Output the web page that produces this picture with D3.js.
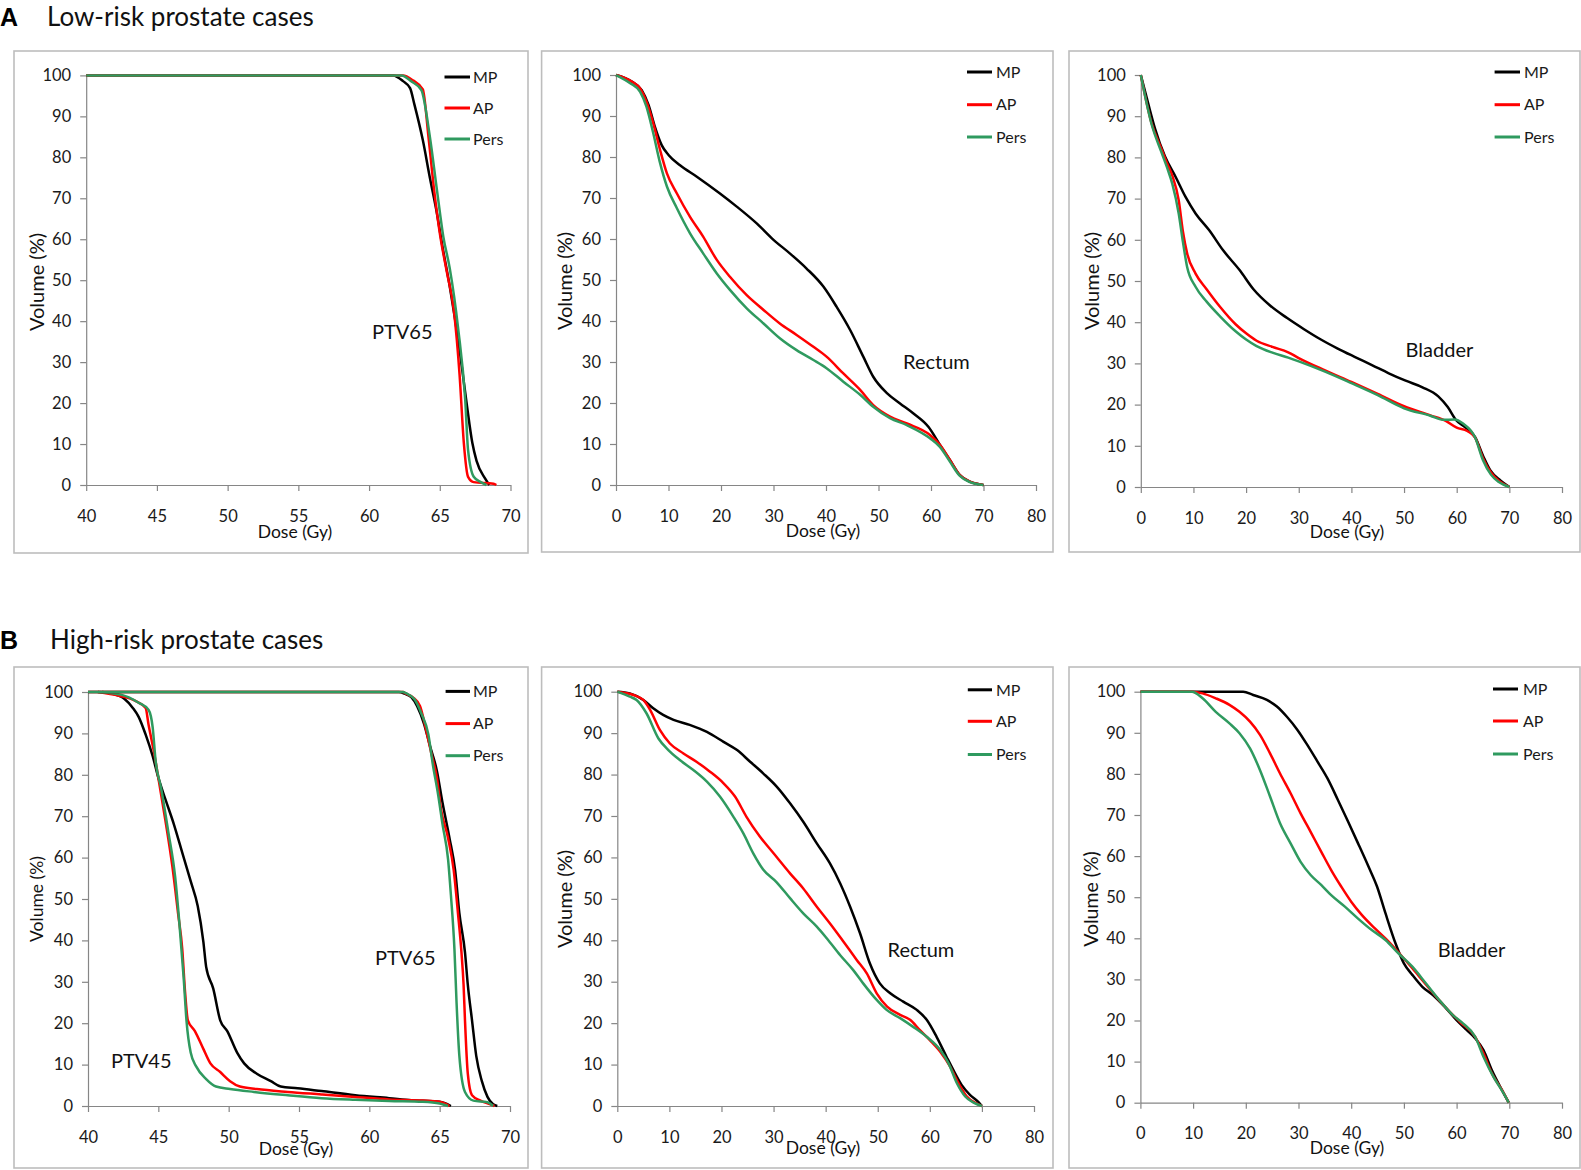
<!DOCTYPE html>
<html lang="en">
<head>
<meta charset="utf-8">
<title>Dose-volume histograms, low- and high-risk prostate cases</title>
<script src="https://d3js.org/d3.v7.min.js"></script>
<style>
  body { margin: 0; background: #fff; }
  svg { display: block; font-family: Lato, "Open Sans", sans-serif; }
  .axis path, .axis line { stroke: #868686; stroke-width: 1.2px; }
  .axis text { font-family: Lato, sans-serif; font-size: 16.5px; fill: #1a1a1a; }
</style>
</head>
<body>
<svg width="1581" height="1170"></svg>
<script>

// series and ticks
const seriesNames = ["MP", "AP", "Pers"];
const seriesColors = ["#000000", "#ff0000", "#2f9a5f"];
const doseTicksPtv = [40, 45, 50, 55, 60, 65, 70];
const doseTicksOar = [0, 10, 20, 30, 40, 50, 60, 70, 80];
const volumeTicks = [0, 10, 20, 30, 40, 50, 60, 70, 80, 90, 100];

// A: low-risk, [dose Gy, volume %]
const lowPtv65MP = [[40,100],[61.7,100],[62.4,98.6],[62.9,96.9],[63.2,93],[63.8,84.2],[64.3,75],[64.8,66.3],[65.2,58],[65.7,48.6],[66.4,33],[66.9,19.9],[67.3,10.3],[67.6,5.9],[68.2,1.6],[68.5,0]];
const lowPtv65AP = [[40,100],[62.4,100],[63.1,98.8],[63.8,96.6],[64.2,85],[64.6,72],[65,61.5],[65.5,52],[66,42.5],[66.4,26.9],[66.7,10.3],[67,2],[67.4,0.7],[68.8,0.3],[69,0]];
const lowPtv65Pers = [[40,100],[62.3,100],[63,98.5],[63.7,96.4],[64.3,85],[64.8,72],[65.25,60.6],[65.7,53],[66.3,38.2],[66.8,20.7],[67,8.5],[67.4,2],[67.9,0.7],[68.3,0]];

const lowRectumMP = [[0,100],[3,98.4],[4.9,96.3],[6.2,92.7],[7.4,87.4],[8.7,82.9],[10,80.5],[12.2,78],[15.4,75.2],[19.8,71.1],[23,67.9],[26.8,63.8],[30,59.8],[33.1,56.5],[36.3,52.8],[39.5,48.4],[42,43.5],[44.6,37.8],[47.1,31.3],[49,26.4],[51.6,22.4],[54.1,19.9],[56.6,17.5],[59.5,14.2],[61.7,9.8],[63.6,6.1],[65.5,2.4],[67.4,0.8],[70,0]];
const lowRectumAP = [[0,100],[3,98.4],[4.6,96.7],[5.8,93.5],[7.1,88.2],[8.4,81.7],[9.7,76],[11.6,71.1],[14.1,65.4],[16.6,60.6],[19.2,54.9],[21.7,50.8],[24.9,46.3],[28.1,42.7],[31.2,39.4],[34.4,36.6],[37.6,33.7],[40.1,31.3],[43.3,27.2],[46.5,23.2],[49,19.5],[52.2,16.7],[55.4,15],[59.8,12.2],[61.7,9.8],[63.6,6.1],[65.5,2.4],[67.4,0.8],[70,0]];
const lowRectumPers = [[0,100],[2.7,98],[4.6,95.9],[5.8,92.3],[7.1,85.8],[8.4,78.5],[9.7,72.8],[11.6,67.5],[14.1,61.4],[16.6,56.5],[19.2,51.6],[21.7,47.6],[24.9,43.1],[28.1,39.4],[31.2,35.8],[34.4,32.9],[37.6,30.5],[40.1,28.5],[43.3,25.2],[46.5,22],[49,19.1],[52.2,16.3],[55.4,14.6],[59.8,11.4],[61.7,9.3],[63.6,5.7],[65.5,2.2],[67.4,0.7],[70,0]];

const lowBladderMP = [[0,100],[1.4,93.1],[2.7,87],[4.6,80.2],[6.6,75.3],[8.5,70.4],[10.4,66.4],[13,62.3],[15.6,57.5],[18.8,52.6],[21.4,48],[24.6,44],[27.8,41],[31,38.3],[34.2,35.8],[37.4,33.6],[40.6,31.6],[43.9,29.6],[47.1,27.6],[50.3,25.8],[53.5,24.2],[56.5,22],[58.3,19.4],[59.9,16.2],[61.5,14.6],[63.5,12.1],[65.1,7.3],[66.4,4],[68.3,1.6],[70,0]];
const lowBladderAP = [[0,100],[2,88.5],[4,81.8],[5,78.5],[6,75.5],[7.2,69.6],[8,62],[8.8,56.7],[10.4,51.8],[12.5,48],[15,43.8],[18,39.5],[20,37.3],[22,35.5],[25,34],[28,32.7],[30,31.3],[35,28.3],[40,25.5],[45,22.6],[50,19.6],[55,17.4],[58,16],[60,14.4],[62,13.6],[63.5,12],[65,7],[66.5,3.5],[68,1.5],[70,0]];
const lowBladderPers = [[0,100],[2,88.3],[4,81],[5,77.5],[6,73.5],[7.2,66.4],[8,59.5],[8.8,53.4],[10.4,48.6],[12.5,45],[15,41.5],[18,37.8],[20,35.8],[22,34.2],[25,32.6],[28,31.4],[30,30.5],[35,28],[40,25.2],[45,22.3],[50,19.1],[55,17.3],[57.4,16.3],[59.6,16.4],[61.2,15.4],[63.5,12],[65,6.5],[66.5,3],[68,1.2],[70,0]];

// B: high-risk
const highPtv45MP = [[41,100],[41.7,99.6],[42.6,98.3],[43.2,96.1],[43.6,94],[44.1,89.7],[44.6,84.5],[45,79.3],[45.5,74.1],[46.1,68.1],[46.7,61.2],[47.3,54.3],[47.8,48.3],[48.2,39.7],[48.4,33.6],[48.9,28.4],[49.4,20.7],[49.9,18.1],[50.6,12.9],[51.1,10.3],[52,7.8],[53,6],[53.7,4.7],[54.9,4.3],[56.6,3.6],[59,2.6],[61.4,1.9],[63,1.4],[65,1],[65.8,0]];
const highPtv45AP = [[40.7,100],[42.2,99.1],[43.4,97.8],[44.1,96.1],[44.3,92.2],[44.7,85.3],[45,79.3],[45.5,69],[46,57.8],[46.4,46.6],[46.7,37.9],[46.9,27.6],[47.1,20.7],[47.6,18.1],[48.2,13.8],[48.7,10.3],[49.4,8.2],[50.1,6],[50.8,4.7],[52,4.1],[54.2,3.4],[56.6,2.8],[59,2.2],[61.4,1.6],[63.8,1.3],[65,1],[65.5,0.4],[65.7,0]];
const highPtv45Pers = [[40.7,100],[42.4,99.3],[43.6,97.4],[44.3,95.7],[44.6,91.4],[44.8,83.6],[45.2,76.7],[45.7,66.4],[46.2,55.2],[46.5,44],[46.8,31],[47,20.7],[47.3,12.9],[47.7,9.5],[48.4,6.5],[49.1,4.7],[50.1,4.1],[51.8,3.4],[54.2,2.6],[56.6,1.9],[59,1.5],[61.4,1.2],[63.8,1],[65,0.6],[65.6,0]];
const highPtv65MP = [[40,100],[62.1,100],[62.5,99.6],[63,98.7],[63.4,96.6],[63.9,92.2],[64.3,87.1],[64.8,81],[65.2,73.3],[65.7,64.7],[66.1,56.9],[66.4,46.6],[66.8,37.1],[67,29.3],[67.3,20.7],[67.6,12.1],[68,6],[68.4,2.2],[68.8,0.4],[69.1,0]];
const highPtv65AP = [[40,100],[62.4,100],[62.6,99.6],[63.1,98.7],[63.6,96.6],[64,91.4],[64.4,85.3],[64.8,79.3],[65.1,71.6],[65.6,64.7],[66,56.9],[66.3,46.6],[66.55,37.1],[66.7,29.3],[66.8,20.7],[67,7.8],[67.3,2.6],[67.9,1.3],[68.6,0.4],[68.9,0]];
const highPtv65Pers = [[40,100],[62.4,100],[62.6,99.7],[63.2,98.3],[63.7,94.8],[64.2,89.7],[64.5,82.8],[64.9,75],[65.2,68.1],[65.6,59.5],[65.8,50.9],[66.05,37.9],[66.2,25],[66.4,12.1],[66.8,3.4],[67.4,1.3],[68.4,0.9],[68.8,0]];

const highRectumMP = [[0,100],[2.4,99.6],[5,98],[6.9,96],[8.8,94.4],[10.8,93.2],[13.9,92],[17.2,90.3],[20.4,87.9],[23,85.9],[25.5,83.1],[28,80.3],[30.6,77.1],[33.2,73],[35.7,68.6],[38.3,63.4],[40.8,58.6],[42.8,53.7],[44.7,48.1],[46.6,41.7],[48.5,34.4],[50.4,29.6],[52.4,27.2],[54.9,25.2],[57.5,23.2],[59.4,20.8],[61.3,16.7],[63.2,11.9],[64.5,8.7],[66.1,5.1],[67.7,2.7],[69.3,1],[70,0]];
const highRectumAP = [[0,100],[3.1,99.2],[5,98],[6.3,95.6],[8.2,90.7],[10.1,87.5],[12.7,85.1],[15.2,83.1],[17.8,80.7],[20.4,77.9],[22.6,74.7],[24.8,69.8],[27.4,65],[30,61],[33.2,56.1],[35.7,52.5],[38.3,48.1],[40.8,44.1],[43.4,39.7],[46,35.2],[47.9,32],[49.8,27.2],[51.8,24],[54.3,22],[56.2,20.8],[58.1,18.3],[60,15.9],[62,13.1],[63.9,9.5],[65.5,5.5],[67.1,2.3],[69,0.6],[70,0]];
const highRectumPers = [[0,100],[2.4,98.8],[3.7,98],[5.6,94.8],[7.9,88.7],[9.8,85.9],[12,83.5],[14.6,81.1],[17.2,78.3],[19.7,74.7],[22.3,69.8],[24.2,65.8],[26.1,61],[28,57.1],[30.6,54],[33.2,50.1],[35.7,46.5],[38.3,43.3],[40.2,40.5],[42.8,36.4],[45.3,32.8],[47.2,29.6],[49.8,25.6],[51.7,23.2],[54.3,21.2],[56.8,19.1],[59.4,16.7],[62,13.5],[63.6,10.3],[65.2,5.5],[66.8,2.3],[68.4,0.8],[70,0]];

const highBladderMP = [[0,100],[19.5,100],[21.4,99.2],[24,98],[25.9,96.4],[27.8,93.9],[29.8,90.7],[31.7,87],[33.6,83],[35.5,78.9],[37.5,73.6],[39.4,68.4],[41.3,63.1],[43.3,57.4],[44.9,52.6],[46.5,46.1],[48.4,38.8],[50,33.9],[51.6,31.1],[53.5,28.2],[55.5,26.2],[57.4,23.8],[60,20.1],[61.9,17.7],[63.5,15.7],[65.1,12.8],[66.7,7.9],[68.6,3.1],[69.9,0]];
const highBladderAP = [[0,100],[9.8,100],[11.8,99.6],[14.3,98.4],[16.9,96.8],[18.8,95.1],[20.8,92.7],[22.7,89.5],[24.6,85],[26.5,80.1],[28.5,75.3],[30.4,70.4],[32.3,65.9],[34.3,61.1],[36.2,56.6],[38.1,52.6],[40,48.9],[42,45.7],[44.5,42.4],[47.1,39.2],[49.7,35.5],[51.6,32.7],[53.5,29.8],[56.1,25.8],[58.7,22.1],[60.6,19.7],[63.5,16.1],[65.1,12],[66.7,7.1],[68.6,3.1],[69.9,0]];
const highBladderPers = [[0,100],[9.8,100],[11.8,98.4],[14.3,95.1],[16.9,92.3],[18.8,89.9],[20.8,86.2],[22.7,80.9],[24.6,74.5],[26.5,68],[28.5,63.1],[30.4,58.6],[32.3,55.4],[34.3,53],[36.2,50.5],[38.8,47.7],[41.3,44.8],[43.9,42],[46.5,39.6],[49,36.3],[51.6,33.1],[54.2,29],[56.7,25],[59.3,21.3],[61.2,19.3],[63.5,16.1],[65.1,11.2],[67,6.3],[68.9,2.3],[69.9,0]];

const panels = [
  { box: [14, 51, 528, 553], xr: [86.2, 510.5], yr: [485, 75.4], dom: [40, 70], ticks: doseTicksPtv,
    groups: [[lowPtv65MP, lowPtv65AP, lowPtv65Pers]],
    leg: [444.5, 470, 473, [77, 108, 139]], notes: [["PTV65", 372, 332]],
    ylab: [37, 282, 20], xlab: [295, 532] },
  { box: [541.6, 51, 1053, 552], xr: [616, 1036], yr: [485, 75], dom: [0, 80], ticks: doseTicksOar,
    groups: [[lowRectumMP, lowRectumAP, lowRectumPers]],
    leg: [967, 992, 996, [72, 104.7, 137]], notes: [["Rectum", 903, 362]],
    ylab: [565, 281, 20], xlab: [823, 531] },
  { box: [1069, 51, 1580, 552], xr: [1140.8, 1562], yr: [487, 75], dom: [0, 80], ticks: doseTicksOar,
    groups: [[lowBladderMP, lowBladderAP, lowBladderPers]],
    leg: [1494.6, 1520, 1524, [72, 104.7, 137]], notes: [["Bladder", 1405.6, 350]],
    ylab: [1092, 281, 20], xlab: [1347, 532] },
  { box: [14, 667, 528, 1168], xr: [88, 510], yr: [1106, 692], dom: [40, 70], ticks: doseTicksPtv,
    groups: [[highPtv45MP, highPtv45AP, highPtv45Pers], [highPtv65MP, highPtv65AP, highPtv65Pers]],
    leg: [445.6, 470, 473, [691.4, 723.6, 755.7]], notes: [["PTV65", 375, 958], ["PTV45", 111, 1060.7]],
    ylab: [37, 899, 17.5], xlab: [296, 1149] },
  { box: [541.6, 667, 1053, 1168], xr: [617.3, 1034], yr: [1106, 691.7], dom: [0, 80], ticks: doseTicksOar,
    groups: [[highRectumMP, highRectumAP, highRectumPers]],
    leg: [967.8, 992, 996, [689.8, 721.3, 754.5]], notes: [["Rectum", 887.5, 950]],
    ylab: [565, 899, 20], xlab: [823, 1148] },
  { box: [1069, 667, 1580, 1168], xr: [1140.4, 1562], yr: [1102.7, 691.7], dom: [0, 80], ticks: doseTicksOar,
    groups: [[highBladderMP, highBladderAP, highBladderPers]],
    leg: [1493, 1518, 1523, [689, 721, 754]], notes: [["Bladder", 1437.7, 950]],
    ylab: [1090.6, 899, 19.5], xlab: [1347, 1148] }
];

const svg = d3.select("svg");

// section headings
const headings = [["A", "Low-risk prostate cases", 26, 47], ["B", "High-risk prostate cases", 648.6, 50]];
headings.forEach(h => {
    svg.append("text").attr("x", 0).attr("y", h[2])
        .attr("font-family", "Liberation Sans, Arial, sans-serif")
        .attr("font-weight", "bold").attr("font-size", "25px").attr("fill", "#000")
        .text(h[0]);
    svg.append("text").attr("x", h[3]).attr("y", h[2])
        .attr("font-size", "26px").attr("fill", "#111")
        .text(h[1]);
});

panels.forEach(p => {
    const g = svg.append("g");

    g.append("rect")
        .attr("x", p.box[0]).attr("y", p.box[1])
        .attr("width", p.box[2] - p.box[0]).attr("height", p.box[3] - p.box[1])
        .attr("fill", "#fff").attr("stroke", "#bdbdbd").attr("stroke-width", 1.6);

    const x = d3.scaleLinear().domain(p.dom).range(p.xr);
    const y = d3.scaleLinear().domain([0, 100]).range(p.yr);

    g.append("g")
        .attr("class", "axis")
        .attr("transform", "translate(0," + p.yr[0] + ")")
        .call(d3.axisBottom(x).tickValues(p.ticks).tickSize(6).tickSizeOuter(0).tickPadding(19));

    g.append("g")
        .attr("class", "axis")
        .attr("transform", "translate(" + p.xr[0] + ",0)")
        .call(d3.axisLeft(y).tickValues(volumeTicks).tickSize(6).tickSizeOuter(0).tickPadding(9));

    const line = d3.line()
        .x(d => x(d[0]))
        .y(d => y(d[1]))
        .curve(d3.curveMonotoneX);

    p.groups.forEach(grp => {
        grp.forEach((s, i) => {
            g.append("path")
                .datum(s)
                .attr("d", line)
                .attr("fill", "none")
                .attr("stroke", seriesColors[i])
                .attr("stroke-width", 2.5)
                .attr("stroke-linejoin", "round");
        });
    });

    // legend
    seriesNames.forEach((name, i) => {
        g.append("line")
            .attr("x1", p.leg[0]).attr("x2", p.leg[1])
            .attr("y1", p.leg[3][i]).attr("y2", p.leg[3][i])
            .attr("stroke", seriesColors[i]).attr("stroke-width", 3);
        g.append("text")
            .attr("x", p.leg[2]).attr("y", p.leg[3][i]).attr("dy", "0.36em")
            .attr("font-size", "16px").attr("fill", "#1a1a1a")
            .text(name);
    });

    p.notes.forEach(n => {
        g.append("text")
            .attr("x", n[1]).attr("y", n[2]).attr("dy", "0.36em")
            .attr("font-size", "20px").attr("fill", "#111")
            .text(n[0]);
    });

    g.append("text")
        .attr("transform", "translate(" + p.ylab[0] + "," + p.ylab[1] + ") rotate(-90)")
        .attr("text-anchor", "middle").attr("dy", "0.36em")
        .attr("font-size", p.ylab[2] + "px").attr("fill", "#111")
        .text("Volume (%)");

    g.append("text")
        .attr("x", p.xlab[0]).attr("y", p.xlab[1]).attr("dy", "0.36em")
        .attr("text-anchor", "middle")
        .attr("font-size", "17.5px").attr("fill", "#111")
        .text("Dose (Gy)");
});

</script>
</body>
</html>
